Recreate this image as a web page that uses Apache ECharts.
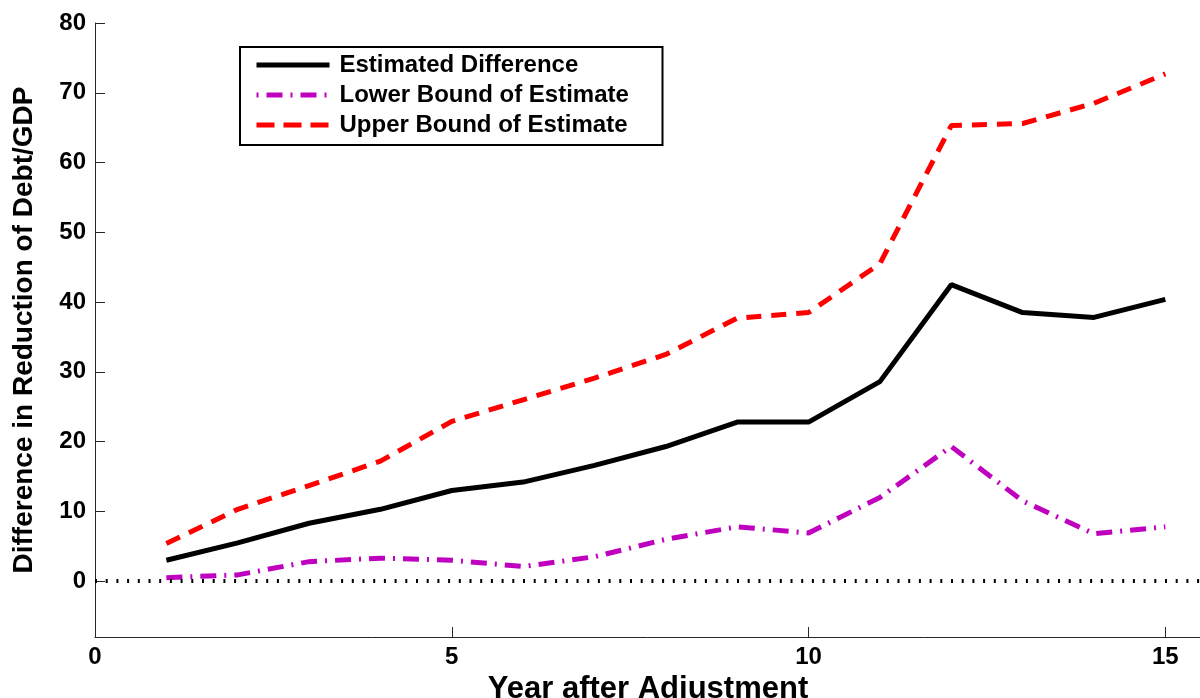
<!DOCTYPE html>
<html>
<head>
<meta charset="utf-8">
<title>Difference in Reduction of Debt/GDP</title>
<script src="https://cdn.jsdelivr.net/npm/echarts@6/dist/echarts.min.js"></script>
<style>
    html,body{margin:0;padding:0;background:#fff;}
    #chart{width:1200px;height:698px;}
</style>
</head>
<body>
<div id="chart"></div>
<script>
// data
var years = [1,2,3,4,5,6,7,8,9,10,11,12,13,14,15];
var estimated = [3.0,5.5,8.3,10.3,13.0,14.2,16.6,19.3,22.8,22.8,28.6,42.5,38.5,37.8,40.4];
var lowerBound = [0.5,0.9,2.8,3.3,3.0,2.1,3.5,6.0,7.8,6.9,12.0,19.3,11.5,6.8,7.8];
var upperBound = [5.4,10.3,13.7,17.2,22.9,26.0,29.1,32.5,37.7,38.5,45.5,65.3,65.6,68.5,72.7];
var xTicks = [0,5,10,15];
var yTicks = [0,10,20,30,40,50,60,70,80];
var seriesNames = ['Estimated Difference','Lower Bound of Estimate','Upper Bound of Estimate'];

function pairs(vals){
    return years.map(function(x,i){ return [x, vals[i]]; });
}

var font = 'Arial, "Liberation Sans", Helvetica, sans-serif';
var axisColor = '#262626';

var solidStyle = { color:'#000', width:5, type:'solid', cap:'butt' };
var dashDotStyle = { color:'#bf00bf', width:5, type:[16,8,2,8], cap:'butt' };
var dashStyle = { color:'#ff0000', width:5, type:[15,10], cap:'butt' };

var chart = echarts.init(document.getElementById('chart'));
var option = {
    animation:false,
    backgroundColor:'#fff',
    grid:{
        left:95,
        right:-1,
        top:23,
        bottom:61,
        outerBoundsMode:'none',
        containLabel:false
    },
    legend:{
        orient:'vertical',
        left:240,
        top:47,
        data:[
            { name:seriesNames[0], lineStyle:solidStyle, itemStyle:{ opacity:0 } },
            { name:seriesNames[1], lineStyle:{ color:'#bf00bf', width:5, type:[2,8,16,8], cap:'butt' }, itemStyle:{ opacity:0 } },
            { name:seriesNames[2], lineStyle:{ color:'#ff0000', width:5, type:[18,9], cap:'butt' }, itemStyle:{ opacity:0 } }
        ],
        itemWidth:73,
        itemHeight:24,
        itemGap:6,
        padding:[6,10,8,14],
        borderColor:'#000',
        borderWidth:2,
        backgroundColor:'#fff',
        selectedMode:false,
        textStyle:{
            color:'#000',
            fontSize:24,
            fontWeight:'bold',
            fontFamily:font,
            width:313,
            lineHeight:24,
            padding:[0,0,0,5]
        }
    },
    xAxis:{
        type:'value',
        min:0,
        max:15.5,
        name:'Year after Adjustment',
        nameLocation:'middle',
        nameGap:31,
        nameTextStyle:{
            color:'#000',
            fontSize:31,
            fontWeight:'bold',
            fontFamily:font
        },
        axisLine:{ show:true, onZero:false, lineStyle:{ color:axisColor, width:1 } },
        axisTick:{ show:true, inside:true, length:10, customValues:xTicks, lineStyle:{ color:axisColor } },
        axisLabel:{
            customValues:xTicks,
            color:'#000',
            fontSize:24,
            fontWeight:'bold',
            fontFamily:font,
            margin:8
        },
        splitLine:{ show:false }
    },
    yAxis:{
        type:'value',
        min:-8,
        max:80,
        name:'Difference in Reduction of Debt/GDP',
        nameLocation:'middle',
        nameGap:57,
        nameRotate:90,
        nameTextStyle:{
            color:'#000',
            fontSize:28,
            fontWeight:'bold',
            fontFamily:font
        },
        axisLine:{ show:true, onZero:false, lineStyle:{ color:axisColor, width:1 } },
        axisTick:{ show:true, inside:true, length:10, customValues:yTicks, lineStyle:{ color:axisColor } },
        axisLabel:{
            customValues:yTicks,
            color:'#000',
            fontSize:24,
            fontWeight:'bold',
            fontFamily:font,
            margin:9
        },
        splitLine:{ show:false }
    },
    series:[{
        name:seriesNames[2],
        type:'line',
        symbol:'none',
        data:pairs(upperBound),
        lineStyle:dashStyle,
        itemStyle:{ color:'#ff0000' }
    },{
        name:seriesNames[1],
        type:'line',
        symbol:'none',
        data:pairs(lowerBound),
        lineStyle:dashDotStyle,
        itemStyle:{ color:'#bf00bf' }
    },{
        name:seriesNames[0],
        type:'line',
        symbol:'none',
        data:pairs(estimated),
        lineStyle:solidStyle,
        itemStyle:{ color:'#000' },
        // dotted zero reference line
        markLine:{
            silent:true,
            symbol:'none',
            label:{ show:false },
            lineStyle:{ color:'#000', width:4, type:[2,8.7], cap:'butt' },
            data:[{ yAxis:0 }]
        }
    }]
};
chart.setOption(option);
</script>
</body>
</html>
